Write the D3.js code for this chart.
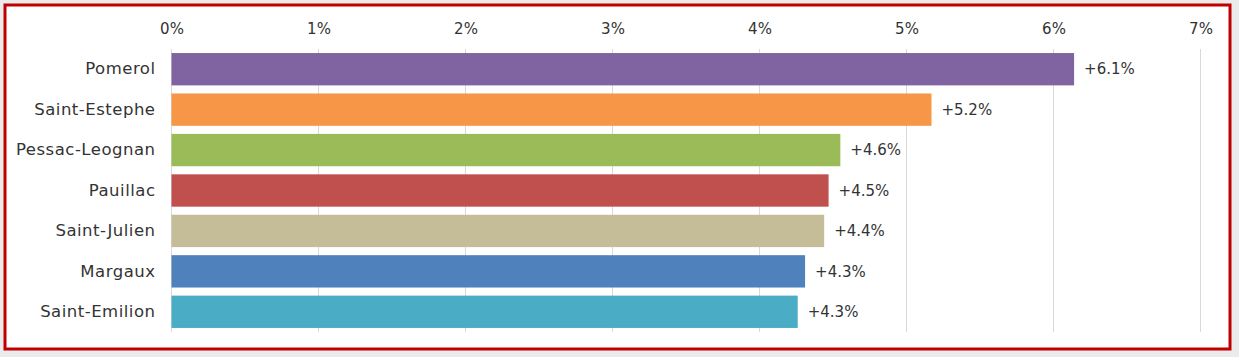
<!DOCTYPE html>
<html><head><meta charset="utf-8">
<script src="https://cdn.jsdelivr.net/npm/d3@7"></script>
<style>
html,body{margin:0;padding:0;background:#ebebeb;}
svg{display:block;}
text{font-family:"DejaVu Sans",sans-serif;fill:#333333;}
</style></head>
<body>
<svg id="c" width="1239" height="357"></svg>
<script>
const categories = ["Pomerol","Saint-Estephe","Pessac-Leognan","Pauillac","Saint-Julien","Margaux","Saint-Emilion"];
const values = [6.14, 5.17, 4.55, 4.47, 4.44, 4.31, 4.26];
const valueLabels = ["+6.1%","+5.2%","+4.6%","+4.5%","+4.4%","+4.3%","+4.3%"];
const colors = ["#8064a2","#f79646","#9bbb59","#c0504d","#c4bd97","#4f81bd","#4bacc6"];
const ticks = [0,1,2,3,4,5,6,7];

const FONT = "'DejaVu Sans', sans-serif";
const svg = d3.select("#c");
svg.append("rect").attr("x",5).attr("y",5).attr("width",1225).attr("height",344)
  .attr("fill","#ffffff").attr("stroke","#c00000").attr("stroke-width",3);

const x = d3.scaleLinear().domain([0,7]).range([171.5,1200.5]);
const y = d3.scaleBand().domain(categories).range([49,332]).paddingInner(0.2).paddingOuter(0.1);

const g = svg.append("g");
g.selectAll("line.grid").data(ticks).enter().append("line")
  .attr("x1",d=>x(d)).attr("x2",d=>x(d)).attr("y1",49).attr("y2",332)
  .attr("stroke","#d9d9d9").attr("stroke-width",1);

const xAxis = d3.axisTop(x).tickValues(ticks).tickFormat(d=>d+"%").tickSize(0).tickPadding(0);
const ax = svg.append("g").attr("transform","translate(0,34)").call(xAxis);
ax.select(".domain").remove();
ax.selectAll("text").style("font-size","15px").style("font-family",FONT).attr("fill","#3a3a3a");

g.selectAll("rect.bar").data(categories).enter().append("rect")
  .attr("x",x(0)).attr("y",d=>y(d)).attr("height",y.bandwidth())
  .attr("width",(d,i)=>x(values[i])-x(0)).attr("fill",(d,i)=>colors[i]);

const yAxis = d3.axisLeft(y).tickSize(0).tickPadding(16);
const ay = svg.append("g").attr("transform",`translate(${x(0)},0)`).call(yAxis);
ay.select(".domain").remove();
ay.selectAll("text").style("font-size","16.5px").style("letter-spacing","0.5px")
  .style("font-family",FONT).attr("fill","#3a3a3a");

g.selectAll("text.val").data(categories).enter().append("text")
  .attr("x",(d,i)=>x(values[i])+10).attr("y",d=>y(d)+y.bandwidth()/2)
  .attr("dy","0.35em").style("font-size","15px").style("font-family",FONT)
  .attr("fill","#3a3a3a").text((d,i)=>valueLabels[i]);
</script>
</body></html>
